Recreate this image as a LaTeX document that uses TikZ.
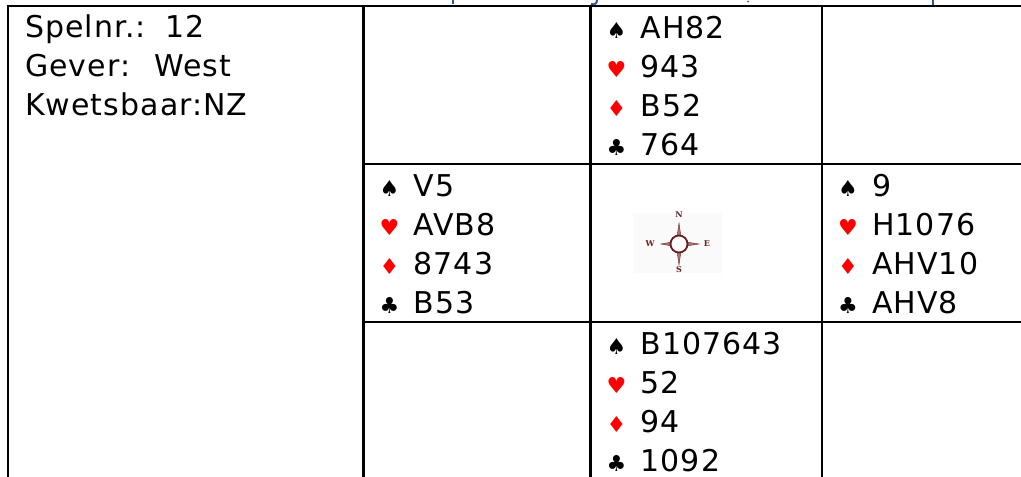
\documentclass[tikz,border=0pt]{standalone}
\usepackage{fontspec}
\setmainfont{DejaVu Sans}[LetterSpace=3.5]
\newfontfamily\suitfont{DejaVu Sans}
\newfontfamily\compfont{DejaVu Serif}
\definecolor{fragblue}{HTML}{2F5597}
\definecolor{suitred}{HTML}{FF0000}
\definecolor{compred}{HTML}{6B1E1E}
\definecolor{compbg}{HTML}{FAFAFA}
\tikzset{
  gridline/.style={line width=2.8pt, black},
  txt/.style={anchor=base west, inner sep=0pt, font=\fontsize{30}{34}\selectfont},
  suitst/.style={anchor=base west, inner sep=0pt, font=\suitfont\fontsize{22}{26}\selectfont},
  frag/.style={fragblue, line width=2pt},
  complbl/.style={inner sep=0pt, font=\compfont\bfseries\fontsize{8}{9}\selectfont, text=compred},
  spike/.style={fill=compred!60, draw=compred, line width=0.4pt}
}
\newcommand\cardline[6]{%
  \node[suitst,text=#5] (#1s) at (#2+16,#3) {#4};
  \node[txt] (#1) at (#2+50,#3) {#6};}
\begin{document}
\begin{tikzpicture}[x=1pt,y=-1pt]
\useasboundingbox (0,0) rectangle (1021,477);
\fill[white] (0,0) rectangle (1021,477);
% cut-off blue fragments at the top
\draw[frag] (453,0) -- (453,4);
\draw[frag] (597,0) .. controls (597,4) and (594,5) .. (591,4);
\fill[fragblue] (748,1.5) circle (1pt);
\draw[frag] (933,0) -- (933,4.5);
% grid
\draw[gridline] (8,477) -- (8,6) -- (1021,6);
\draw[gridline] (363.5,6) -- (363.5,477);
\draw[gridline] (590.5,6) -- (590.5,477);
\draw[gridline] (822,6) -- (822,477);
\draw[gridline] (363.5,164) -- (1021,164);
\draw[gridline] (363.5,322) -- (1021,322);
% info cell
\node[txt] (spel) at (25,37) {Spelnr.:\hspace{6pt} 12};
\node[txt] (gever) at (25,76) {Gever:\hspace{10pt} West};
\node[txt] (kwets) at (25,115) {Kwetsbaar:NZ};
% North
\cardline{ns}{590.5}{38}{♠}{black}{AH82}
\cardline{nh}{590.5}{77}{♥}{suitred}{943}
\cardline{nd}{590.5}{116}{♦}{suitred}{B52}
\cardline{nc}{590.5}{155}{♣}{black}{764}
% West
\cardline{ws}{363.5}{196}{♠}{black}{V5}
\cardline{wh}{363.5}{235}{♥}{suitred}{AVB8}
\cardline{wd}{363.5}{274}{♦}{suitred}{8743}
\cardline{wc}{363.5}{313}{♣}{black}{B53}
% East
\cardline{es}{822}{196}{♠}{black}{9}
\cardline{eh}{822}{235}{♥}{suitred}{H1076}
\cardline{ed}{822}{274}{♦}{suitred}{AHV10}
\cardline{ec}{822}{313}{♣}{black}{AHV8}
% South
\cardline{ss}{590.5}{354}{♠}{black}{B107643}
\cardline{sh}{590.5}{393}{♥}{suitred}{52}
\cardline{sd}{590.5}{432}{♦}{suitred}{94}
\cardline{sc}{590.5}{471}{♣}{black}{1092}
% compass rose
\fill[compbg] (633,213) rectangle (722,273);
\fill[spike] (677,237) -- (679,223) -- (681,237) -- cycle;
\fill[spike] (677,251) -- (679,265) -- (681,251) -- cycle;
\fill[spike] (672,242) -- (661,244) -- (672,246) -- cycle;
\fill[spike] (686,242) -- (699,244) -- (686,246) -- cycle;
\draw[compred, line width=1.8pt, fill=white] (679,244) circle (8.5pt);
\node[complbl] (cn) at (679,215) {N};
\node[complbl] (cs) at (679,270) {S};
\node[complbl] (cw) at (650,244) {W};
\node[complbl] (ce) at (707,244) {E};
\end{tikzpicture}
\end{document}
